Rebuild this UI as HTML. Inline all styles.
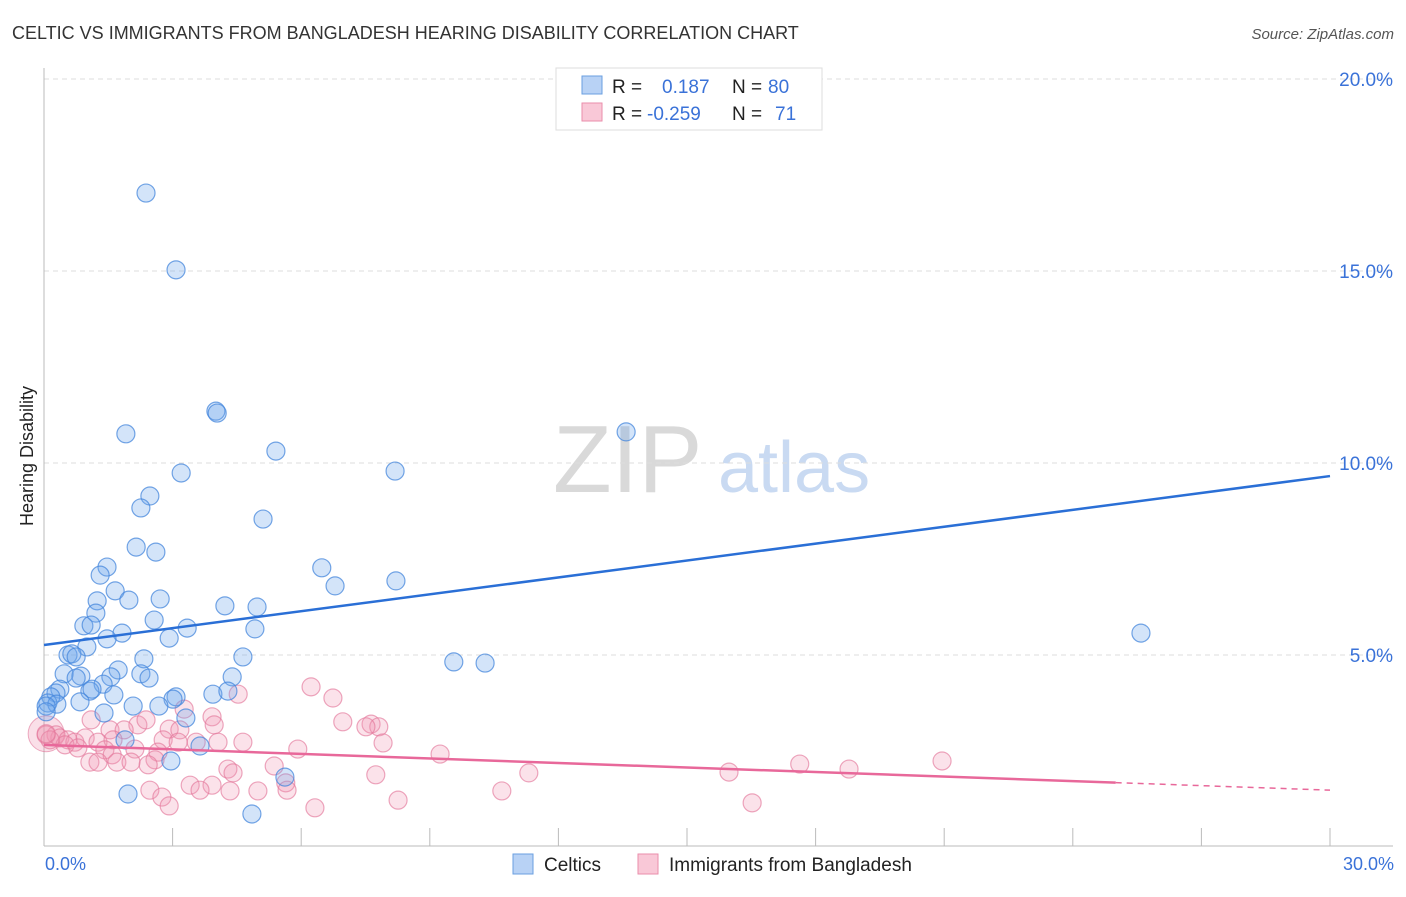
<!DOCTYPE html>
<html><head><meta charset="utf-8"><style>
body{margin:0;background:#fff;font-family:"Liberation Sans",sans-serif}
svg text{font-family:"Liberation Sans",sans-serif}
</style></head><body>
<svg id="chart" width="1406" height="892" viewBox="0 0 1406 892" xmlns="http://www.w3.org/2000/svg">
<text x="12" y="39" font-size="18" fill="#333">CELTIC VS IMMIGRANTS FROM BANGLADESH HEARING DISABILITY CORRELATION CHART</text>
<text x="1394" y="39" font-size="15" fill="#555" font-style="italic" text-anchor="end">Source: ZipAtlas.com</text>
<g>
<text x="553" y="492" font-size="96" fill="#d9d9d9" font-family="Liberation Serif">ZIP</text>
<text x="718" y="492" font-size="72" fill="#c9daf2">atlas</text>
</g>
<g id="grid"></g><g id="axes"></g><g id="pts"></g><g id="lines"></g>
<text transform="translate(33,456) rotate(-90)" font-size="18" fill="#222" text-anchor="middle">Hearing Disability</text>
<text x="45" y="870" font-size="18" fill="#3a72d8">0.0%</text>
<text x="1394" y="870" font-size="18" fill="#3a72d8" text-anchor="end">30.0%</text>
<g>
<rect x="556" y="68" width="266" height="62" fill="#fff" stroke="#ddd"/>
<rect x="582" y="76" width="20" height="18" fill="#b8d2f5" stroke="#6a9fe0"/>
<rect x="582" y="103" width="20" height="18" fill="#f9c8d7" stroke="#ea8eab"/>
<text x="612" y="93" font-size="19" fill="#222">R = </text><text x="662" y="93" font-size="19" fill="#3a72d8">0.187</text>
<text x="732" y="93" font-size="19" fill="#222">N = </text><text x="768" y="93" font-size="19" fill="#3a72d8">80</text>
<text x="612" y="120" font-size="19" fill="#222">R = </text><text x="647" y="120" font-size="19" fill="#3a72d8">-0.259</text>
<text x="732" y="120" font-size="19" fill="#222">N = </text><text x="775" y="120" font-size="19" fill="#3a72d8">71</text>
</g>
<g>
<rect x="513" y="854" width="20" height="20" fill="#b8d2f5" stroke="#6a9fe0"/>
<text x="544" y="871" font-size="19" fill="#222">Celtics</text>
<text x="669" y="871" font-size="19" fill="#222">Immigrants from Bangladesh</text>
<rect x="638" y="854" width="20" height="20" fill="#f9c8d7" stroke="#ea8eab"/>
</g>
</svg>
<script>
const yTicks=[5,10,15,20];
const yTickLabels=["5.0%","10.0%","15.0%","20.0%"];
const xTicks=[3,6,9,12,15,18,21,24,27,30];
const celticsX=[2.38,3.08,4.01,4.04,1.91,5.41,3.20,2.47,2.26,5.11,8.19,13.58,2.15,2.61,1.47,1.31,6.48,6.79,8.21,1.66,1.98,2.71,1.24,1.21,4.22,4.97,2.57,0.93,1.10,1.82,1.47,2.92,3.34,4.92,1.00,0.56,0.65,0.75,4.64,2.33,9.56,10.29,25.59,0.47,0.86,0.75,1.73,2.26,1.56,2.45,4.39,1.38,1.07,0.37,0.28,1.12,3.08,3.01,3.94,4.29,1.63,0.16,0.09,0.30,0.84,0.05,0.05,1.40,2.08,2.68,3.31,1.89,3.64,2.96,5.62,1.96,4.85];
const celticsY=[17.03,15.03,11.35,11.30,10.76,10.31,9.74,9.14,8.83,8.54,9.79,10.81,7.81,7.68,7.29,7.08,7.27,6.80,6.93,6.67,6.43,6.46,6.41,6.09,6.28,6.25,5.91,5.76,5.78,5.57,5.42,5.44,5.70,5.68,5.21,5.00,5.03,4.95,4.95,4.90,4.82,4.79,5.57,4.51,4.45,4.40,4.61,4.51,4.43,4.40,4.43,4.24,4.06,4.11,4.01,4.11,3.91,3.85,3.98,4.06,3.96,3.91,3.75,3.72,3.78,3.67,3.52,3.49,3.67,3.67,3.36,2.79,2.63,2.24,1.82,1.38,0.86];
const bangX=[6.23,6.74,4.53,3.27,3.92,1.10,2.19,6.97,7.63,7.81,7.51,1.54,2.38,2.92,3.97,1.87,3.17,0.28,0.37,0.56,0.72,0.96,1.26,1.61,2.78,3.13,3.55,4.06,4.64,7.91,5.92,9.24,0.49,0.79,1.42,2.12,2.66,1.59,2.59,1.07,1.26,1.70,2.03,2.43,5.37,4.29,4.41,7.74,11.31,15.98,17.63,18.78,20.95,3.41,3.92,3.64,5.64,5.67,2.47,2.75,4.34,4.99,10.68,8.26,2.92,6.32,16.52,0.05,0.14,0.05];
const bangY=[4.17,3.88,3.98,3.59,3.39,3.31,3.18,3.26,3.20,3.13,3.13,3.05,3.31,3.07,3.18,3.05,3.05,2.92,2.84,2.79,2.73,2.84,2.73,2.79,2.79,2.73,2.73,2.73,2.73,2.71,2.55,2.42,2.66,2.58,2.53,2.55,2.47,2.40,2.27,2.21,2.21,2.21,2.21,2.14,2.11,2.03,1.93,1.88,1.93,1.95,2.16,2.03,2.24,1.61,1.61,1.48,1.67,1.48,1.48,1.30,1.46,1.46,1.46,1.22,1.07,1.02,1.15,2.92,2.79,2.95];
const celticsTrend=[5.26,9.66];
const bangTrend=[2.66,1.48];
const bangSolidEnd=25;
const NS="http://www.w3.org/2000/svg";
const xs=v=>44+v/30*1286;
const ys=v=>847-v*38.4;
function mk(tag,attrs,parent){const e=document.createElementNS(NS,tag);for(const k in attrs)e.setAttribute(k,attrs[k]);document.getElementById(parent).appendChild(e);return e;}
yTicks.forEach((t,i)=>{
 const g=mk('line',{x1:44,x2:1393,y1:ys(t),y2:ys(t),stroke:'#ddd','stroke-dasharray':'5,4'},'grid');
 
 
 const l=mk('text',{x:1393,y:ys(t)+7,'font-size':19,fill:'#3a72d8','text-anchor':'end'},'grid');
 l.textContent=yTickLabels[i];
 
 
});
const ax=mk('line',{x1:44,x2:44,y1:68,y2:846,stroke:'#bbb'},'axes');


const bx=mk('line',{x1:44,x2:1393,y1:846,y2:846,stroke:'#bbb'},'axes');


xTicks.forEach(t=>{
 const k=mk('line',{x1:xs(t),x2:xs(t),y1:828,y2:846,stroke:'#bbb'},'axes');
 
 
});
const bp=mk('circle',{cx:xs(0.05),cy:ys(2.95),r:18,fill:'rgba(240,150,180,0.3)',stroke:'rgba(225,120,155,0.6)'},'pts');


bangX.forEach((x,i)=>{
 const c=mk('circle',{cx:xs(x),cy:ys(bangY[i]),r:9,fill:'rgba(240,150,180,0.28)',stroke:'rgba(228,120,155,0.65)','stroke-width':1.2},'pts');
 
 
});
celticsX.forEach((x,i)=>{
 const c=mk('circle',{cx:xs(x),cy:ys(celticsY[i]),r:9,fill:'rgba(110,165,235,0.3)',stroke:'rgba(70,135,220,0.75)','stroke-width':1.2},'pts');
 
 
});
const tl=mk('line',{x1:xs(0),y1:ys(celticsTrend[0]),x2:xs(30),y2:ys(celticsTrend[1]),stroke:'#2a6fd6','stroke-width':2.5},'lines');


const bAt=v=>bangTrend[0]+(bangTrend[1]-bangTrend[0])*v/30;
const pl=mk('line',{x1:xs(0),y1:ys(bAt(0)),x2:xs(bangSolidEnd),y2:ys(bAt(bangSolidEnd)),stroke:'#e8689a','stroke-width':2.5},'lines');


const pd=mk('line',{x1:xs(bangSolidEnd),y1:ys(bAt(bangSolidEnd)),x2:xs(30),y2:ys(bAt(30)),stroke:'#e8689a','stroke-width':1.5,'stroke-dasharray':'6,5'},'lines');


</script>
</body></html>
